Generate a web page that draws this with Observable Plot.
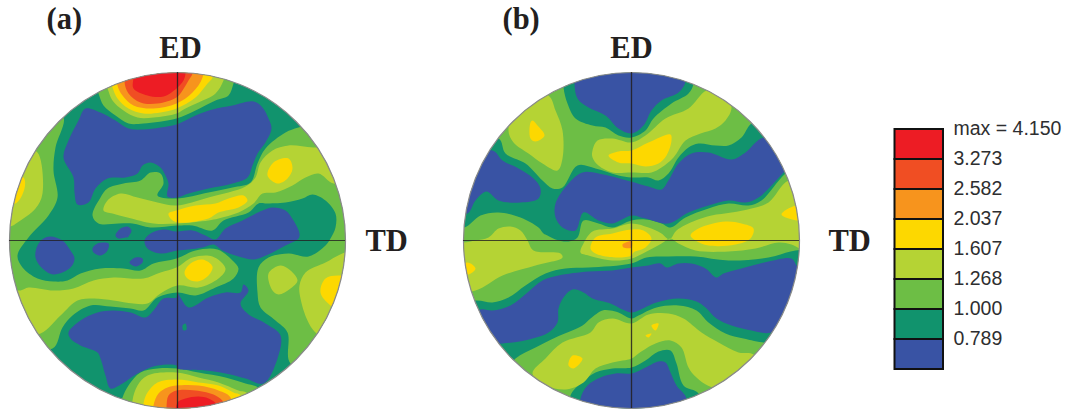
<!DOCTYPE html>
<html>
<head>
<meta charset="utf-8">
<script src="https://cdn.jsdelivr.net/npm/d3@7"></script>
<script src="https://cdn.jsdelivr.net/npm/@observablehq/plot@0.6"></script>
<style>
html,body{margin:0;padding:0;background:#fff;overflow:hidden}
</style>
</head>
<body>
<div id="chart"></div>
<script>
// Legend
const legendLabels = ["max = 4.150","3.273","2.582","2.037","1.607","1.268","1.000","0.789"];
const legendColors = ["#ed1c24","#f04e23","#f7941d","#fdd800","#b5d334","#6dbe45","#11936d","#3953a4"];
const [RED,REDOR,ORANGE,YELLOW,LIME,GREEN,TEAL,BLUE] = legendColors;

// Pole figure (a): contour outlines as offsets from disc centre (disc radius 168)
const aGreen = [
 [[-114,-123],[-122,-93],[-124,-70],[-120,-43],[-129,-25],[-149,-3],[-160,15],[-155,27],[-140,38],[-124,41],[-110,40],[-97,33],[-77,28],[-54,28],[-37,30],[-24,23],[-1,18],[18,10],[40,9],[55,20],[61,28],[56,38],[38,47],[18,55],[0,52],[-20,57],[-34,70],[-47,68],[-67,66],[-87,65],[-105,75],[-115,87],[-125,108],[-170,100],[-190,0],[-170,-70],[-130,-130]],
 [[-85,-25],[-77,-43],[-70,-52],[-54,-57],[-37,-60],[-27,-68],[-17,-67],[-14,-57],[-20,-45],[-1,-42],[31,-48],[55,-53],[73,-58],[80,-77],[88,-92],[108,-108],[121,-113],[150,-120],[195,-60],[195,60],[150,130],[113,123],[110,92],[98,80],[83,67],[80,52],[81,27],[91,17],[111,13],[131,16],[148,5],[153,-2],[158,-13],[158,-27],[148,-40],[135,-46],[125,-42],[108,-38],[88,-37],[81,-37],[71,-28],[46,-20],[35,-10],[15,-15],[-1,-15],[-27,-13],[-45,-17],[-59,-17],[-79,-17]],
 [[-79,-147],[-74,-135],[-62,-125],[-49,-117],[-34,-117],[-1,-122],[18,-130],[38,-140],[51,-145],[56,-157],[60,-175],[0,-185],[-85,-165]],
 [[-55,157],[-49,145],[-37,132],[-20,128],[0,128],[21,132],[48,137],[68,143],[81,148],[80,175],[0,185],[-60,175]]
];
const aBlue = [
 [[-92,-132],[-77,-128],[-62,-120],[-49,-112],[-34,-111],[-17,-113],[-1,-116],[18,-125],[35,-131],[55,-135],[76,-139],[85,-133],[91,-122],[94,-112],[88,-98],[80,-87],[75,-75],[70,-63],[55,-57],[31,-52],[11,-47],[0,-43],[-10,-44],[-9,-57],[-12,-65],[-17,-73],[-27,-78],[-35,-75],[-40,-67],[-52,-63],[-70,-62],[-82,-52],[-89,-38],[-100,-36],[-103,-48],[-104,-63],[-114,-83],[-109,-100],[-99,-120]],
 [[-27,-7],[-14,-11],[-1,-9],[15,-10],[28,-5],[38,-1],[48,-12],[65,-20],[85,-30],[95,-33],[108,-30],[116,-20],[122,-7],[121,-2],[108,5],[95,12],[81,18],[75,19],[61,16],[45,10],[36,4],[25,7],[11,9],[0,10],[-17,13],[-30,8],[-33,0]],
 [[-62,-5],[-57,-12],[-50,-14],[-46,-10],[-49,-4],[-52,0],[-50,-3],[-59,-2]],
 [[-127,-4],[-115,0],[-107,10],[-103,18],[-107,27],[-124,34],[-135,28],[-142,17],[-140,5],[-134,-2]],
 [[-85,8],[-80,3],[-69,3],[-70,10],[-77,15],[-84,12]],
 [[-48,22],[-42,17],[-35,18],[-35,22],[-42,26]],
 [[-109,92],[-97,80],[-80,72],[-65,70],[-47,72],[-32,77],[-24,70],[-14,58],[-1,57],[0,53],[11,67],[31,57],[48,52],[63,52],[66,44],[71,50],[63,63],[70,73],[88,83],[103,95],[100,118],[86,143],[68,138],[48,133],[28,130],[0,128],[-1,125],[-20,125],[-40,133],[-55,143],[-67,148],[-72,135],[-77,118],[-80,112],[-97,105],[-107,98]]
];
const aTealSpot = [[[5,85],[8,83],[9,89],[6,90]]];
const aLime = [
 [[-140,-88],[-135,-47],[-142,-32],[-160,-18],[-167,-14],[-180,-14],[-180,-70],[-150,-90]],
 [[-157,50],[-149,47],[-124,50],[-104,48],[-84,40],[-64,37],[-34,38],[-17,32],[-1,27],[15,17],[35,16],[48,28],[41,38],[21,47],[0,45],[-17,53],[-30,63],[-44,63],[-64,60],[-84,58],[-100,60],[-117,75],[-137,93],[-170,95],[-175,50]],
 [[-74,-30],[-70,-40],[-57,-47],[-40,-43],[-20,-38],[-1,-35],[31,-43],[68,-54],[78,-63],[83,-78],[95,-90],[111,-95],[136,-93],[170,-95],[180,-60],[156,-57],[141,-67],[128,-63],[115,-55],[98,-48],[85,-47],[76,-37],[61,-28],[41,-22],[31,-20],[0,-17],[-24,-17],[-50,-23],[-65,-27]],
 [[91,33],[103,25],[113,30],[120,40],[113,48],[101,54],[95,50]],
 [[122,45],[128,32],[148,22],[168,12],[185,12],[175,120],[138,92],[130,80],[123,58]],
 [[-70,-152],[-65,-140],[-54,-130],[-40,-123],[-24,-123],[-1,-127],[8,-132],[21,-138],[38,-147],[46,-160],[50,-175],[0,-182],[-75,-165]],
 [[-45,160],[-40,145],[-30,135],[-1,132],[21,137],[41,142],[61,150],[70,153],[70,175],[-45,175]]
];
const aYellow = [
 [[-154,-63],[-153,-52],[-162,-37],[-175,-40],[-170,-65]],
 [[7,32],[13,23],[25,19],[35,26],[31,35],[20,41],[10,38]],
 [[-9,-27],[-1,-30],[18,-35],[38,-37],[51,-42],[66,-45],[70,-40],[61,-33],[41,-28],[31,-22],[0,-18],[-7,-22]],
 [[90,-65],[96,-78],[111,-82],[115,-72],[110,-62],[100,-57]],
 [[143,52],[148,38],[163,35],[180,40],[170,75],[153,65]],
 [[-65,-153],[-60,-142],[-49,-132],[-34,-127],[-17,-128],[-1,-132],[18,-143],[30,-157],[35,-163],[35,-180],[-70,-170]],
 [[-34,163],[-30,152],[-20,142],[-1,139],[21,142],[41,145],[56,152],[63,155],[60,180],[-34,180]]
];
const aOrange = [
 [[-60,-155],[-55,-145],[-44,-135],[-24,-132],[-1,-137],[15,-148],[25,-163],[25,-180],[-60,-175]],
 [[-24,165],[-19,153],[-10,147],[-1,145],[21,145],[41,150],[53,157],[53,180],[-24,180]]
];
const aRedOrange = [
 [[-53,-159],[-49,-147],[-37,-138],[-20,-137],[-1,-143],[5,-150],[11,-160],[15,-167],[15,-180],[-50,-175]],
 [[-11,167],[-9,155],[-1,150],[18,150],[38,155],[46,162],[46,180],[-11,180]]
];
const aRed = [
 [[-44,-162],[-44,-152],[-30,-145],[-14,-144],[-1,-152],[6,-160],[8,-167],[8,-180],[-40,-175]],
 [[0,162],[8,158],[21,156],[31,158],[40,165],[40,180],[0,180]]
];

// Pole figure (b)
const bTeal = [
 [[-68,-153],[-64,-137],[-56,-122],[-39,-115],[-26,-113],[-13,-105],[0,-103],[14,-110],[22,-122],[40,-137],[57,-147],[62,-157],[60,-180],[-68,-180]],
 [[-133,-102],[-126,-87],[-106,-77],[-89,-60],[-79,-52],[-69,-53],[-54,-75],[-36,-72],[-13,-65],[0,-63],[17,-63],[27,-60],[37,-67],[47,-83],[57,-93],[67,-97],[84,-95],[97,-95],[110,-103],[120,-117],[150,-130],[190,-90],[155,-68],[130,-40],[117,-35],[97,-37],[77,-32],[54,-23],[39,-13],[30,-17],[14,-21],[0,-20],[-19,-13],[-33,-17],[-48,-20],[-54,-3],[-63,1],[-76,-1],[-84,-5],[-88,-7],[-93,-13],[-111,-23],[-133,-28],[-151,-25],[-167,-13],[-185,-13],[-185,-100]],
 [[-156,60],[-139,62],[-123,57],[-106,45],[-86,33],[-66,28],[-43,27],[0,23],[15,17],[37,16],[64,16],[97,20],[137,17],[164,10],[185,10],[185,100],[140,100],[134,102],[112,98],[94,93],[77,82],[65,70],[47,65],[25,67],[7,75],[0,78],[-13,72],[-21,70],[-29,70],[-41,78],[-49,85],[-76,97],[-96,107],[-116,118],[-130,135],[-190,70]],
 [[-61,155],[-51,143],[-36,132],[-19,128],[0,127],[14,120],[27,111],[39,110],[45,123],[52,145],[67,153],[70,178],[-61,178]]
];
const bBlue = [
 [[-57,-157],[-54,-142],[-43,-133],[-26,-125],[-13,-112],[0,-107],[12,-115],[20,-130],[30,-140],[47,-148],[54,-159],[50,-180],[-55,-180]],
 [[-139,-90],[-129,-80],[-113,-72],[-98,-62],[-91,-52],[-93,-42],[-111,-38],[-133,-40],[-145,-49],[-156,-40],[-164,-27],[-180,-30],[-180,-80]],
 [[-1,-59],[17,-54],[30,-51],[37,-60],[47,-77],[60,-87],[77,-88],[100,-81],[114,-88],[132,-103],[175,-95],[152,-68],[127,-43],[114,-38],[97,-40],[77,-35],[57,-28],[37,-17],[14,-22],[0,-25],[-19,-17],[-33,-20],[-48,-28],[-56,-10],[-69,-13],[-76,-23],[-76,-37],[-63,-57],[-49,-68],[-33,-67]],
 [[-151,69],[-139,70],[-121,65],[-104,52],[-89,40],[-73,35],[-43,31],[-19,30],[0,27],[17,25],[29,23],[35,27],[47,23],[60,23],[74,28],[85,37],[92,33],[110,28],[137,21],[160,18],[165,25],[185,60],[140,92],[120,90],[100,85],[85,78],[74,67],[65,61],[47,58],[25,62],[7,70],[0,72],[-9,69],[-21,63],[-39,58],[-48,52],[-59,49],[-68,57],[-73,68],[-74,82],[-83,92],[-99,98],[-129,103],[-180,100],[-170,80]],
 [[-51,158],[-44,145],[-31,137],[-16,133],[0,133],[14,127],[27,121],[34,122],[39,132],[45,145],[55,158],[50,175],[-50,175]]
];
const bLime = [
 [[-123,-110],[-110,-150],[-83,-145],[-76,-130],[-69,-110],[-69,-82],[-74,-70],[-89,-77],[-103,-87],[-118,-98]],
 [[-39,-90],[-34,-100],[-19,-102],[0,-98],[14,-105],[34,-122],[57,-132],[75,-150],[92,-150],[100,-133],[94,-120],[84,-112],[69,-107],[54,-100],[42,-83],[30,-73],[20,-68],[0,-68],[-19,-68],[-33,-75],[-39,-83]],
 [[-168,2],[-156,0],[-143,-3],[-133,-12],[-121,-14],[-111,-10],[-104,0],[-98,10],[-71,13],[-69,17],[-96,25],[-129,35],[-156,50],[-180,50],[-185,2]],
 [[-51,12],[-48,3],[-39,-9],[-19,-12],[0,-17],[17,-13],[30,-7],[38,-1],[45,-10],[64,-20],[80,-25],[100,-28],[120,-32],[137,-38],[157,-60],[185,-60],[185,15],[160,4],[147,2],[124,8],[97,11],[64,10],[47,3],[39,-2],[30,3],[17,10],[0,18],[-19,20],[-43,15]],
 [[-99,133],[-86,118],[-69,102],[-41,92],[-33,82],[-19,78],[0,83],[17,74],[37,73],[52,78],[70,92],[87,102],[107,112],[122,114],[140,140],[82,147],[65,137],[57,127],[50,107],[39,100],[24,103],[7,113],[0,118],[-19,122],[-36,128],[-48,142],[-66,149],[-85,145]]
];
const bYellow = [
 [[-101,-118],[-99,-120],[-94,-115],[-87,-105],[-96,-99],[-101,-102]],
 [[-23,-85],[-13,-89],[0,-90],[17,-98],[39,-106],[40,-100],[35,-85],[27,-77],[14,-74],[0,-77],[-13,-78]],
 [[-164,22],[-156,28],[-163,34],[-175,30]],
 [[150,-26],[164,-35],[180,-35],[180,-20],[165,-20]],
 [[59,-5],[67,-12],[94,-19],[110,-17],[122,-12],[119,-2],[104,4],[77,5],[64,0]],
 [[-41,8],[-36,-3],[-19,-7],[0,-11],[12,-10],[20,-2],[14,7],[2,12],[0,15],[-16,17],[-36,13]],
 [[-63,125],[-59,115],[-49,118],[-58,128]],
 [[20,85],[27,83],[24,90]],
 [[14,95],[20,93],[17,97]]
];
const bOrange = [[[-9,4],[-3,1],[0,0],[0,7],[-8,7]]];

// Layer stacks, painted bottom to top
const aLayers = [[GREEN,aGreen],[BLUE,aBlue],[TEAL,aTealSpot],[LIME,aLime],[YELLOW,aYellow],[ORANGE,aOrange],[REDOR,aRedOrange],[RED,aRed]];
const bLayers = [[TEAL,bTeal],[BLUE,bBlue],[LIME,bLime],[YELLOW,bYellow],[ORANGE,bOrange]];

// Layout
const W = 1068, H = 410, R = 168;
const discs = [
 {id:"disc-a", cx:177, cy:240, base:TEAL, layers:aLayers, tag:"(a)", tagX:46, edX:180, tdX:365},
 {id:"disc-b", cx:631, cy:240, base:GREEN, layers:bLayers, tag:"(b)", tagX:502, edX:631, tdX:828}
];
const clipTo = id => (index, scales, values, dim, ctx, next) => {
  const g = next(index, scales, values, dim, ctx);
  g.setAttribute("clip-path", `url(#${id})`);
  return g;
};
const serif = {fontFamily:"Liberation Serif", fontWeight:"bold", fontSize:30.5, fill:"#231f20", lineAnchor:"bottom"};
const marks = [];
for (const D of discs) {
  const clip = clipTo(D.id);
  marks.push(Plot.dot([D], {x:"cx", y:"cy", r:R, fill:D.base, stroke:"none"}));
  for (const [color, polys] of D.layers) {
    for (const poly of polys) {
      marks.push(Plot.line(poly, {
        x:d => D.cx + d[0], y:d => D.cy + d[1],
        fill:color, stroke:"none", curve:"catmull-rom-closed", render:clip
      }));
    }
  }
  marks.push(Plot.dot([D], {x:"cx", y:"cy", r:R, fill:"none", stroke:"#8a8a8a", strokeWidth:1.2}));
  marks.push(Plot.ruleX([D.cx], {y1:D.cy-R, y2:D.cy+R, stroke:"#231f20", strokeOpacity:0.85, strokeWidth:1.3}));
  marks.push(Plot.ruleY([D.cy], {x1:D.cx-R, x2:D.cx+R, stroke:"#231f20", strokeOpacity:0.8, strokeWidth:1.2}));
  marks.push(Plot.text([D.tag], {x:D.tagX, y:28, text:d=>d, textAnchor:"start", ...serif}));
  marks.push(Plot.text(["ED"], {x:D.edX, y:57, text:d=>d, textAnchor:"middle", ...serif}));
  marks.push(Plot.text(["TD"], {x:D.tdX, y:250, text:d=>d, textAnchor:"start", ...serif}));
}
// Colour key
const keyX1 = 894.5, keyX2 = 943, keyTop = 129, keyStep = 30;
marks.push(Plot.rect(legendColors, {
  x1:keyX1, x2:keyX2,
  y1:(d,i)=>keyTop+i*keyStep, y2:(d,i)=>keyTop+(i+1)*keyStep,
  fill:d=>d, stroke:"#111", strokeWidth:2
}));
marks.push(Plot.text(legendLabels, {
  x:953, y:(d,i)=>keyTop-1+i*keyStep, text:d=>d, textAnchor:"start", lineAnchor:"middle",
  fontFamily:"Liberation Sans", fontSize:19.5, fill:"#2e2e30", wordSpacing:1.5
}));

const chart = Plot.plot({
  width:W, height:H, margin:0,
  x:{domain:[0,W], range:[0,W], axis:null},
  y:{domain:[0,H], range:[0,H], axis:null},
  color:{type:"identity"},
  style:{background:"#fff"},
  marks
});
const defs = d3.select(chart).append("defs");
for (const D of discs) {
  defs.append("clipPath").attr("id", D.id)
    .append("circle").attr("cx", D.cx).attr("cy", D.cy).attr("r", R);
}
document.getElementById("chart").append(chart);
</script>
</body>
</html>
